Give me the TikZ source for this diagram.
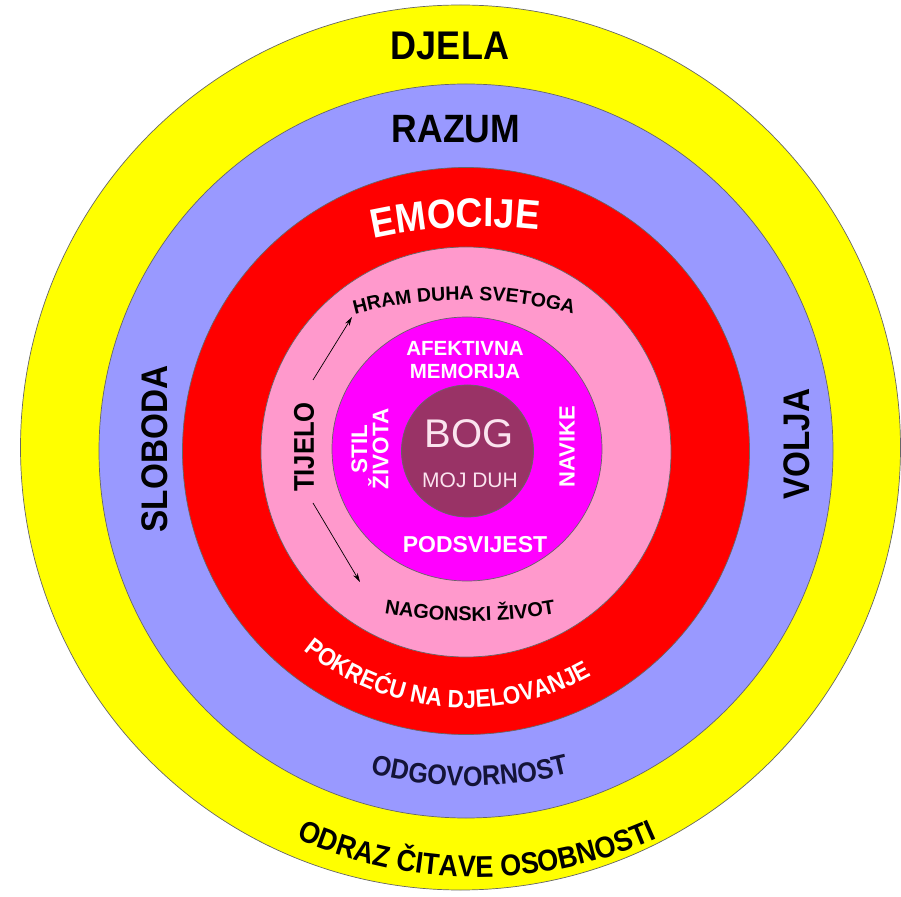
\documentclass[tikz,border=0pt]{standalone}
\usepackage{fontspec}
\setmainfont{Liberation Sans}
\newfontfamily\labelfont[FakeStretch=0.9]{Liberation Sans}
\usetikzlibrary{arrows.meta,decorations.text}

\definecolor{zuta}{HTML}{FFFF00}
\definecolor{plava}{HTML}{9999FF}
\definecolor{crvena}{HTML}{FF0000}
\definecolor{roza}{HTML}{FF99CC}
\definecolor{ljubicasta}{HTML}{FF00FF}
\definecolor{bordo}{HTML}{993366}
\definecolor{bogtekst}{HTML}{FBE4EF}
\definecolor{tamnoplava}{HTML}{141438}

% fonts for the curved labels
\newcommand\emofont{\labelfont\bfseries\fontsize{41}{41}\selectfont}
\newcommand\hramfont{\bfseries\fontsize{19.5}{19.5}\selectfont}
\newcommand\nagonfont{\bfseries\fontsize{20}{20}\selectfont}
\newcommand\pokrefont{\labelfont\bfseries\fontsize{25}{25}\selectfont}
\newcommand\odgofont{\labelfont\bfseries\fontsize{28}{28}\selectfont}
\newcommand\odrazfont{\labelfont\bfseries\fontsize{30}{30}\selectfont}

\begin{document}
\begin{tikzpicture}[x=1pt, y=1pt,
    ring/.style={draw=black!60, line width=0.7pt},
    lbl/.style={inner sep=0pt, align=center},
    pfeil/.style={-{Stealth[length=9pt,width=5pt]}, line width=0.7pt},
    luk/.style={decorate, decoration={text along path, text align=center}}]
    \useasboundingbox (-466,-445) rectangle (435,451);

    % Define rings, outside in
    \filldraw[ring, fill=zuta] (-5.5,3.5) ellipse[x radius=440, y radius=442.5];
    \filldraw[ring, fill=plava] (0,0) circle[radius=367];
    \filldraw[ring, fill=crvena] (0,0) circle[radius=283.5];
    \filldraw[ring, fill=roza] (0,-1) circle[radius=205];
    \filldraw[ring, fill=ljubicasta] (1,2) ellipse[x radius=135, y radius=132];
    \filldraw[ring, fill=bordo] (1.5,0) circle[radius=66];

    % Straight labels
    \node[lbl, font={\labelfont\bfseries\fontsize{40}{40}\selectfont}] (djela) at (-16,405) {DJELA};
    \node[lbl, font={\labelfont\bfseries\fontsize{39.5}{39.5}\selectfont}] (razum) at (-10,322) {RAZUM};
    \node[lbl, rotate=90, font={\labelfont\bfseries\fontsize{37}{37}\selectfont}] (sloboda) at (-311,2) {SLOBODA};
    \node[lbl, rotate=90, font={\labelfont\bfseries\fontsize{37}{37}\selectfont}] (volja) at (331,7) {VOLJA};
    \node[lbl, rotate=90, font={\labelfont\bfseries\fontsize{28.5}{28.5}\selectfont}] (tijelo) at (-162,4) {TIJELO};
    \node[lbl, text=white, font={\bfseries\fontsize{20.5}{23}\selectfont}] (afekt) at (-1,91) {AFEKTIVNA\\MEMORIJA};
    \node[lbl, text=white, font={\bfseries\fontsize{23}{23}\selectfont}] (podsv) at (9,-94) {PODSVIJEST};
    \node[lbl, text=white, rotate=90, font={\bfseries\fontsize{22.5}{20}\selectfont}] (stil) at (-96,2) {STIL\\ŽIVOTA};
    \node[lbl, text=white, rotate=90, font={\bfseries\fontsize{22}{22}\selectfont}] (navike) at (101,4) {NAVIKE};
    \node[lbl, text=bogtekst, font={\fontsize{40}{40}\selectfont}] (bog) at (3,17) {BOG};
    \node[lbl, text=bogtekst, font={\fontsize{21}{21}\selectfont}] (duh) at (4,-29) {MOJ DUH};

    % Curved labels
    \path[luk, decoration={text={|\emofont|EMOCIJE}, text color=white}]
        ([shift={(108:500)}]16,-276) arc[start angle=108, end angle=78, radius=500];
    \path[luk, decoration={text={|\hramfont|HRAM DUHA SVETOGA}}]
        ([shift={(110:420)}]-2,-269) arc[start angle=110, end angle=70, radius=420];
    \path[luk, decoration={text={|\nagonfont|NAGONSKI ŽIVOT}}]
        ([shift={(250:500)}]4,330) arc[start angle=250, end angle=290, radius=500];
    \path[luk, decoration={text={|\pokrefont|POKREĆU NA DJELOVANJE}, text color=white}]
        ([shift={(215:257)}]0,0) arc[start angle=215, end angle=315, radius=257];
    \path[luk, decoration={text={|\odgofont|ODGOVORNOST}, text color=tamnoplava}]
        ([shift={(240:400)}]4,65) arc[start angle=240, end angle=300, radius=400];
    \path[luk, decoration={text={|\odrazfont|ODRAZ ČITAVE OSOBNOSTI}}]
        ([shift={(230:440)}]11,14) arc[start angle=230, end angle=310, radius=440];

    % Arrows beside TIJELO
    \coordinate (gore0) at (-153,71);
    \coordinate (gore1) at (-114,134);
    \coordinate (dolje0) at (-153,-52);
    \coordinate (dolje1) at (-106,-131);
    \draw[pfeil] (gore0) -- (gore1);
    \draw[pfeil] (dolje0) -- (dolje1);
\end{tikzpicture}
\end{document}
